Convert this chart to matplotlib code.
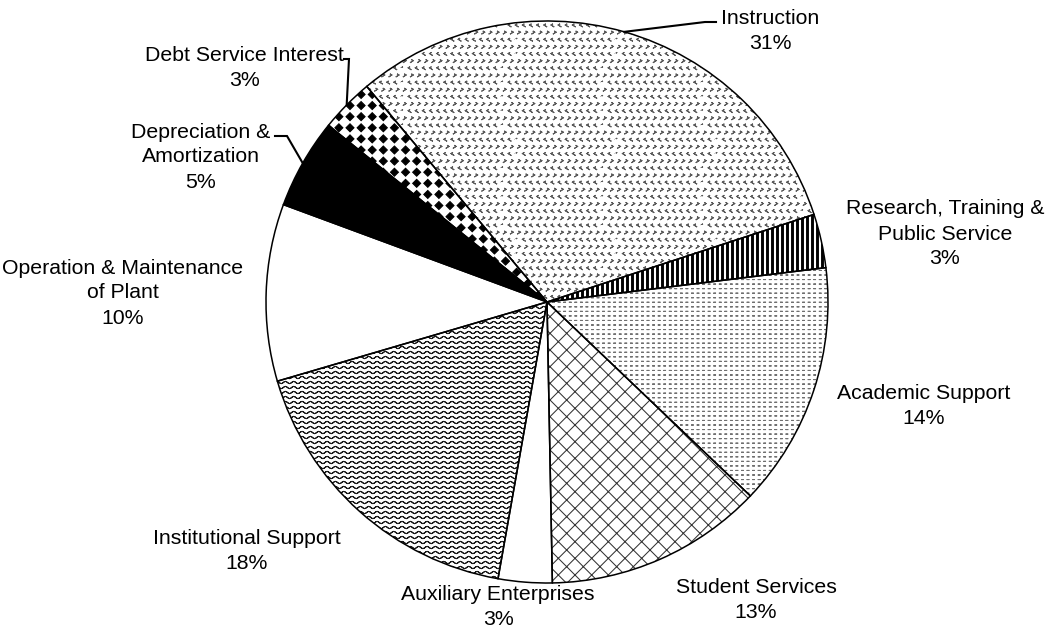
import warnings
import numpy as np
import matplotlib
matplotlib.use("Agg")
import matplotlib.pyplot as plt
import matplotlib.hatch as mhatch
from matplotlib.path import Path

warnings.filterwarnings("ignore")

# expense categories, clockwise from the top-left
categories = ["Instruction",
              "Research, Training &\nPublic Service",
              "Academic Support",
              "Student Services",
              "Auxiliary Enterprises",
              "Institutional Support",
              "Operation & Maintenance\nof Plant",
              "Depreciation &\nAmortization",
              "Debt Service Interest"]
shares = [31.1, 3.1, 14.1, 12.6, 3.1, 17.7, 10.2, 5.2, 3.1]

# fill style per slice
fills = ["white", "white", "white", "white", "white",
         "white", "white", "black", "white"]
hatches = ["v", "s", "p", "xx", None, "w", None, None, "d"]
hatch_colors = ["#5a5a5a", "black", "#707070", "#333333", "none",
                "#1a1a1a", "none", "black", "black"]

# label centres and leader elbows, in pixels from the top-left corner
label_pos = [(770, 31), (945, 234), (924, 406), (756, 600), (498, 607),
             (247, 551), (123, 293), (201, 157), (244, 68)]
leaders = {0: [(705, 22), (716, 22)],
           7: [(287, 136), (275, 136)],
           8: [(349, 59), (344, 59)]}

W, H = 1045, 630
CENTER = (547, H - 302)
RADIUS = 281


# ---- extra hatch patterns (unit tile = 1 inch = 100 px) ----
def _seg(points):
    # stroke drawn forward and back so the hatch fill adds no area
    pts = np.asarray(points, float)
    pts = np.vstack([pts, pts[-2::-1]])
    codes = np.full(len(pts), Path.LINETO, dtype=Path.code_type)
    codes[0] = Path.MOVETO
    return pts, codes


def _poly(points):
    pts = np.asarray(points, float)
    pts = np.vstack([pts, pts[:1]])
    codes = np.full(len(pts), Path.LINETO, dtype=Path.code_type)
    codes[0] = Path.MOVETO
    codes[-1] = Path.CLOSEPOLY
    return pts, codes


class _ShapeHatch(mhatch.HatchPatternBase):
    symbol = ""

    def __init__(self, hatch, density):
        self.pieces = self.build() if self.symbol in hatch else []
        self.num_vertices = sum(len(p) for p, _ in self.pieces)

    def build(self):
        return []

    def set_vertices_and_codes(self, vertices, codes):
        i = 0
        for p, c in self.pieces:
            vertices[i:i + len(p)] = p
            codes[i:i + len(p)] = c
            i += len(p)


class WaveHatch(_ShapeHatch):
    symbol = "w"

    def build(self):
        rows, periods, amp = 20, 12, 0.011
        x = np.linspace(0, 1, periods * 8 + 1)
        out = []
        for j in range(rows):
            y = (j + 0.5) / rows + amp * np.sin(2 * np.pi * periods * x)
            out.append(_seg(np.column_stack([x, y])))
        return out


class ChevronHatch(_ShapeHatch):
    symbol = "v"

    def build(self):
        n, w, h = 14, 0.014, 0.018
        out = []
        for j in range(n):
            d = w if j % 2 else -w
            for i in range(n):
                cx = (i + 0.25 + 0.5 * (j % 2)) / n
                cy = (j + 0.5) / n
                out.append(_seg([(cx - d / 2, cy + h / 2),
                                 (cx + d / 2, cy),
                                 (cx - d / 2, cy - h / 2)]))
        return out


class DiamondHatch(_ShapeHatch):
    symbol = "d"

    def build(self):
        n, r = 9, 0.04
        out = []
        for j in range(n):
            for i in range(n):
                cx, cy = (i + 0.5) / n, (j + 0.5) / n
                out.append(_poly([(cx - r, cy), (cx, cy + r),
                                  (cx + r, cy), (cx, cy - r)]))
        return out


class StripeHatch(_ShapeHatch):
    symbol = "s"

    def build(self):
        n, w = 20, 0.018
        return [_poly([(x - w / 2, 0), (x + w / 2, 0),
                       (x + w / 2, 1), (x - w / 2, 1)])
                for x in (np.arange(n) + 0.5) / n]


class DotHatch(_ShapeHatch):
    symbol = "p"

    def build(self):
        nx, ny, e = 18, 22, 0.0005
        out = []
        for j in range(ny):
            for i in range(nx):
                cx, cy = (i + 0.5) / nx, (j + 0.5) / ny
                out.append(_seg([(cx - e, cy), (cx + e, cy)]))
        return out


mhatch._hatch_types.extend([WaveHatch, ChevronHatch, DiamondHatch,
                            StripeHatch, DotHatch])

plt.rcParams["font.family"] = ["Liberation Sans", "DejaVu Sans"]
plt.rcParams["hatch.linewidth"] = 0.75

fig = plt.figure(figsize=(W / 100, H / 100), dpi=100)
ax = fig.add_axes([0, 0, 1, 1])

# filled / hatched slices
wedges, _ = ax.pie(shares, startangle=129.9, counterclock=False,
                   center=CENTER, radius=RADIUS, colors=fills,
                   wedgeprops=dict(linewidth=0))
for w, h, hc in zip(wedges, hatches, hatch_colors):
    if h:
        w.set_hatch(h)
        w.set_edgecolor(hc)
        w.set_linewidth(0)

# black outlines on top
ax.pie(shares, startangle=129.9, counterclock=False,
       center=CENTER, radius=RADIUS, colors=["none"] * len(shares),
       wedgeprops=dict(linewidth=1.1, edgecolor="black"))

total = sum(shares)
for i, (cat, v) in enumerate(zip(categories, shares)):
    x, y = label_pos[i]
    ax.text(x, H - y, f"{cat}\n{round(v / total * 100)}%",
            ha="center", va="center", multialignment="center",
            fontsize=15.3, linespacing=1.4, color="black")
    if i in leaders:
        w = wedges[i]
        mid = np.deg2rad((w.theta1 + w.theta2) / 2)
        px = [CENTER[0] + RADIUS * np.cos(mid)]
        py = [CENTER[1] + RADIUS * np.sin(mid)]
        for ex, ey in leaders[i]:
            px.append(ex)
            py.append(H - ey)
        ax.plot(px, py, color="black", linewidth=1.5,
                solid_joinstyle="miter")

ax.set_xlim(0, W)
ax.set_ylim(0, H)
ax.set_aspect("equal")
ax.axis("off")

fig.savefig("out.png", dpi=100, facecolor="white")
